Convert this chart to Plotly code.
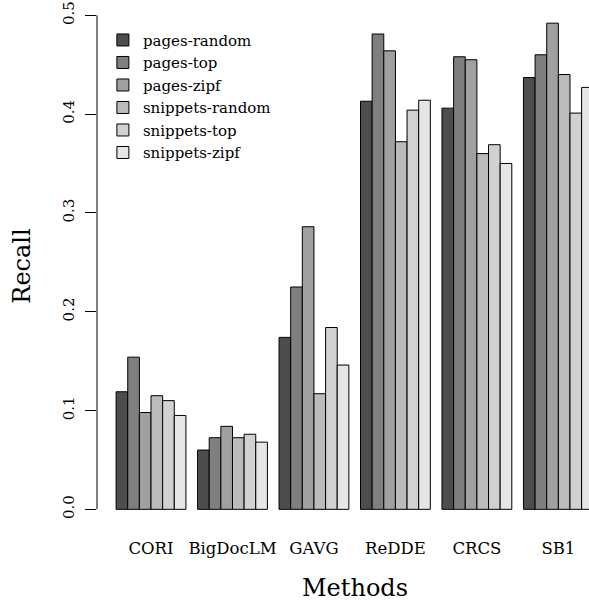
import plotly.graph_objects as go

methods = ["CORI", "BigDocLM", "GAVG", "ReDDE", "CRCS", "SB1"]
series = ["pages-random", "pages-top", "pages-zipf",
          "snippets-random", "snippets-top", "snippets-zipf"]
pages_random = [0.119, 0.060, 0.174, 0.413, 0.406, 0.437]
pages_top = [0.154, 0.0725, 0.225, 0.481, 0.458, 0.460]
pages_zipf = [0.098, 0.084, 0.286, 0.464, 0.455, 0.492]
snippets_random = [0.115, 0.0725, 0.117, 0.372, 0.360, 0.440]
snippets_top = [0.110, 0.076, 0.184, 0.404, 0.369, 0.401]
snippets_zipf = [0.095, 0.068, 0.146, 0.414, 0.350, 0.427]
values = [pages_random, pages_top, pages_zipf,
          snippets_random, snippets_top, snippets_zipf]
colors = ["#4D4D4D", "#7F7F7F", "#A0A0A0", "#BBBBBB", "#D1D1D1", "#E6E6E6"]
ytick_vals = [0.0, 0.1, 0.2, 0.3, 0.4, 0.5]
ytick_text = ["0.0", "0.1", "0.2", "0.3", "0.4", "0.5"]

FONT = "DejaVu Serif"

fig = go.Figure()
for name, vals, col in zip(series, values, colors):
    fig.add_trace(go.Bar(
        x=methods, y=vals, name=name, legendgroup=name,
        marker=dict(color=col, line=dict(color="black", width=1)),
    ))

n = len(methods)
fig.update_layout(
    width=589, height=602,
    margin=dict(l=97, r=0, t=3, b=73),
    paper_bgcolor="white", plot_bgcolor="white",
    barmode="group", bargap=1/7, bargroupgap=0,
    font=dict(family=FONT, size=16, color="black"),
    showlegend=True,
    legend=dict(
        x=0.012, y=0.9606, xanchor="left", yanchor="top",
        bgcolor="rgba(0,0,0,0)", font=dict(family=FONT, size=15),
        tracegroupgap=0, itemclick=False,
    ),
    xaxis=dict(
        range=[-0.663, 5.376], showline=False, showgrid=False,
        zeroline=False, ticks="", tickfont=dict(size=16.5),
        ticklabelstandoff=7,
    ),
    yaxis=dict(
        range=[-0.0199, 0.5124], showline=False, showgrid=False,
        zeroline=False, tickvals=ytick_vals, ticktext=ytick_text,
        ticks="outside", ticklen=11, tickwidth=1, tickcolor="black",
        tickangle=-90, tickfont=dict(size=15), ticklabelstandoff=5,
        title=dict(text="Recall", font=dict(size=24), standoff=22),
    ),
    shapes=[dict(type="line", xref="paper", yref="y", x0=0, x1=0,
                 y0=min(ytick_vals), y1=max(ytick_vals),
                 line=dict(color="black", width=1))],
    annotations=[dict(text="Methods", x=(n - 1) / 2, xref="x",
                      y=-0.112, yref="paper", yanchor="middle",
                      showarrow=False, font=dict(size=24))],
)

fig.write_html("out.html",
               config={"displayModeBar": False},
               post_script="document.body.style.margin='0';")
